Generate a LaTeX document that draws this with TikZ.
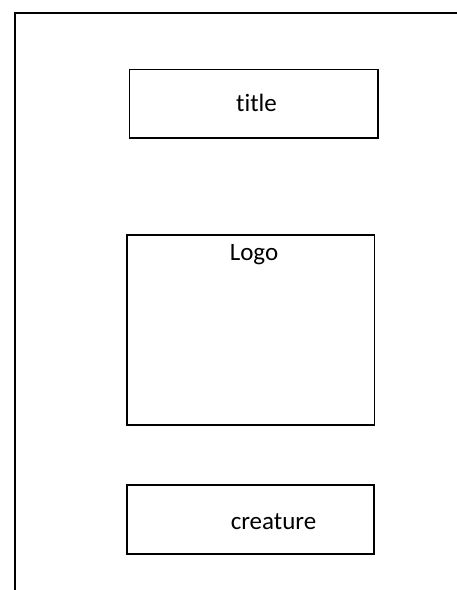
\documentclass[tikz,border=0pt]{standalone}
\usepackage{fontspec}
\setmainfont[Ligatures=NoCommon]{Carlito}
\begin{document}
\begin{tikzpicture}[x=1pt,y=1pt,
  box/.style={draw=black,line width=1.6pt,rectangle,inner sep=0pt},
  lbl/.style={anchor=base,inner sep=0pt,font=\fontsize{25}{29}\selectfont},
  frame/.style={draw=black,line width=2pt}]
\useasboundingbox (0,0) rectangle (457,-590);
\coordinate (tr) at (457,-12.5);
\coordinate (tl) at (15,-12.5);
\coordinate (bl) at (15,-590);
\draw[frame] (tr) -- (tl) -- (bl);
\node[box,minimum width=248.7pt,minimum height=68.7pt] (titlebox) at (253.65,-103.65) {};
\node[box,minimum width=247.6pt,minimum height=190pt] (logobox) at (250.5,-330) {};
\node[box,minimum width=247.3pt,minimum height=69pt] (creaturebox) at (250.35,-519.5) {};
\node[lbl] (title) at (256.5,-111.5) {t\kern0pt itle};
\node[lbl] (logo) at (254,-260.5) {Logo};
\node[lbl] (creature) at (273.5,-529) {creature};
\end{tikzpicture}
\end{document}
